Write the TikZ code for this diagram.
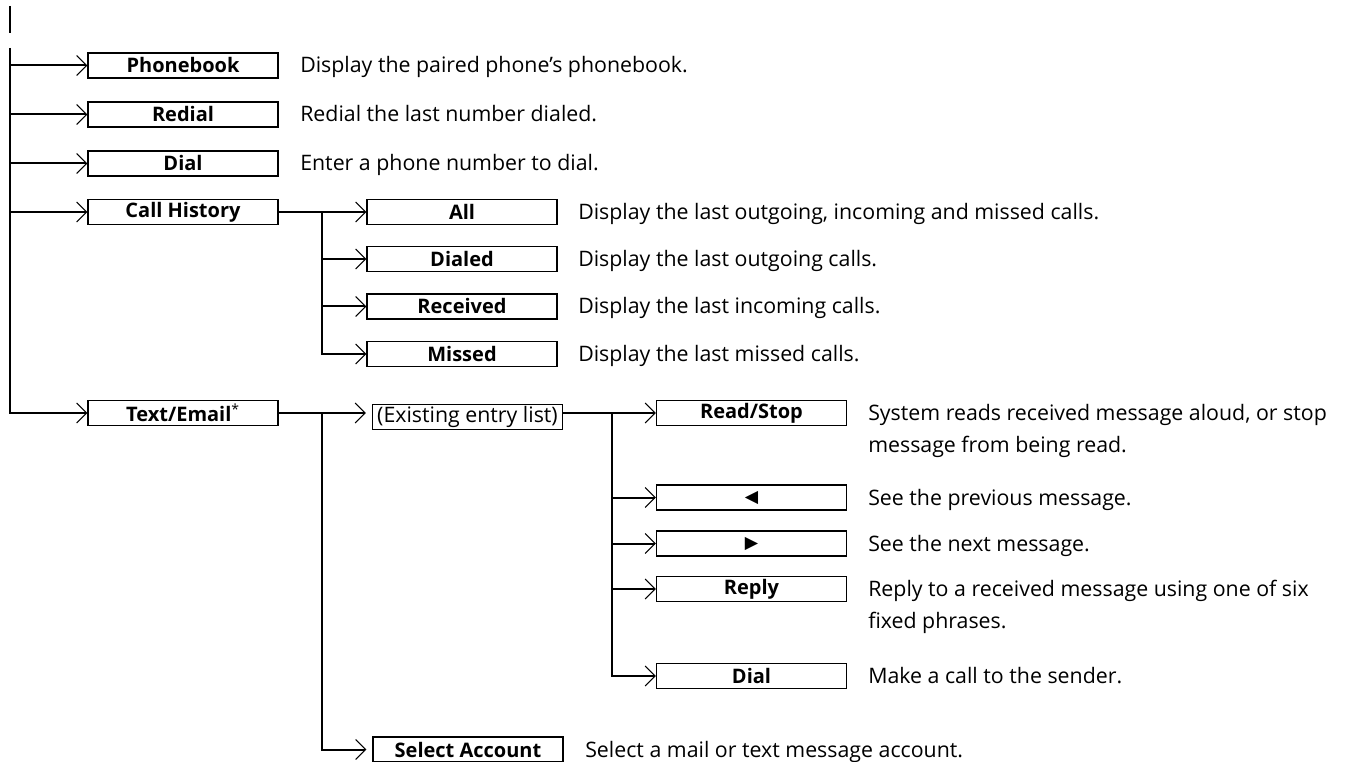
\documentclass[tikz,border=0pt]{standalone}
\usepackage{fontspec}
\setmainfont{Open Sans}
\newfontfamily\symf{DejaVu Sans}
\usetikzlibrary{arrows.meta}
\begin{document}
\begin{tikzpicture}[x=0.75pt,y=-0.75pt,
  box/.style={draw, line width=0.9pt, minimum width=142.5pt, minimum height=18.75pt,
    inner sep=0pt, font=\bfseries\fontsize{15}{17}\selectfont},
  plainbox/.style={box, font=\fontsize{16}{17}\selectfont},
  desc/.style={anchor=base west, inner sep=0pt, font=\fontsize{16}{24}\selectfont, align=left},
  conn/.style={line width=1.5pt},
  arr/.style={conn, -{Straight Barb[length=7.5pt,width=15pt,line width=0.8pt]}}]
\useasboundingbox (0,0) rectangle (1345,762);
% top mark
\coordinate (m0) at (10,6);
\coordinate (m1) at (10,33);
\draw[line width=1.8pt] (m0) -- (m1);
% level 1
\node[box] (pb) at (183,65.5) {Phonebook};
\node[box] (rd) at (183,114.5) {Redial};
\node[box] (dl) at (183,163.5) {Dial};
\node[box] (ch) at (183,212) {Call History};
\node[box] (te) at (183,413) {Text/Email\textsuperscript{\normalfont*}};
\node[desc] (dpb) at (300,73) {Display the paired phone’s phonebook.};
\node[desc] (drd) at (300,122) {Redial the last number dialed.};
\node[desc] (ddl) at (300,171) {Enter a phone number to dial.};
\coordinate (T) at (10,48);
\draw[arr] (T) |- (te.west);
\draw[arr] (T |- pb.west) -- (pb.west);
\draw[arr] (T |- rd.west) -- (rd.west);
\draw[arr] (T |- dl.west) -- (dl.west);
\draw[arr] (T |- ch.west) -- (ch.west);
% call history
\node[box] (all) at (462,212) {All};
\node[box] (dd) at (462,259) {Dialed};
\node[box] (rc) at (462,306.5) {Received};
\node[box] (ms) at (462,354) {Missed};
\node[desc] (dall) at (578,219.5) {Display the last outgoing, incoming and missed calls.};
\node[desc] (ddd) at (578,266.5) {Display the last outgoing calls.};
\node[desc] (drc) at (578,314) {Display the last incoming calls.};
\node[desc] (dms) at (578,361.5) {Display the last missed calls.};
\coordinate (c1) at (322,212);
\draw[conn] (ch.east) -- (c1);
\draw[arr] (c1) |- (ms.west);
\draw[arr] (c1) -- (all.west);
\draw[arr] (c1 |- dd.west) -- (dd.west);
\draw[arr] (c1 |- rc.west) -- (rc.west);
% text/email
\node[plainbox] (ex) at (467.5,417) {(Existing entry list)};
\node[box] (sa) at (468,749.5) {Select Account};
\node[desc] (dsa) at (585,757) {Select a mail or text message account.};
\coordinate (c2) at (322,413);
\draw[conn] (te.east) -- (c2);
\draw[arr, shorten >=4.5pt] (c2) -- (c2 -| ex.west);
\draw[arr, shorten >=4.5pt] (c2) |- (sa.west);
% messages
\node[box] (rs) at (751.5,413) {Read/Stop};
\node[box] (pv) at (751.5,497.5) {\symf\fontsize{13}{13}\selectfont ◀};
\node[box] (nx) at (751.5,543.5) {\symf\fontsize{13}{13}\selectfont ▶};
\node[box] (rp) at (751.5,589) {Reply};
\node[box] (d2) at (751.5,676) {Dial};
\node[desc] (drs) at (868,452.5) {System reads received message aloud, or stop\\message from being read.};
\node[desc] (dpv) at (868,505) {See the previous message.};
\node[desc] (dnx) at (868,551) {See the next message.};
\node[desc] (drp) at (868,628.5) {Reply to a received message using one of six\\fixed phrases.};
\node[desc] (dd2) at (868,683.5) {Make a call to the sender.};
\coordinate (c3) at (612,413);
\draw[conn] (ex.east |- c3) -- (c3);
\draw[arr] (c3) |- (d2.west);
\draw[arr] (c3) -- (rs.west);
\draw[arr] (c3 |- pv.west) -- (pv.west);
\draw[arr] (c3 |- nx.west) -- (nx.west);
\draw[arr] (c3 |- rp.west) -- (rp.west);
\end{tikzpicture}
\end{document}
